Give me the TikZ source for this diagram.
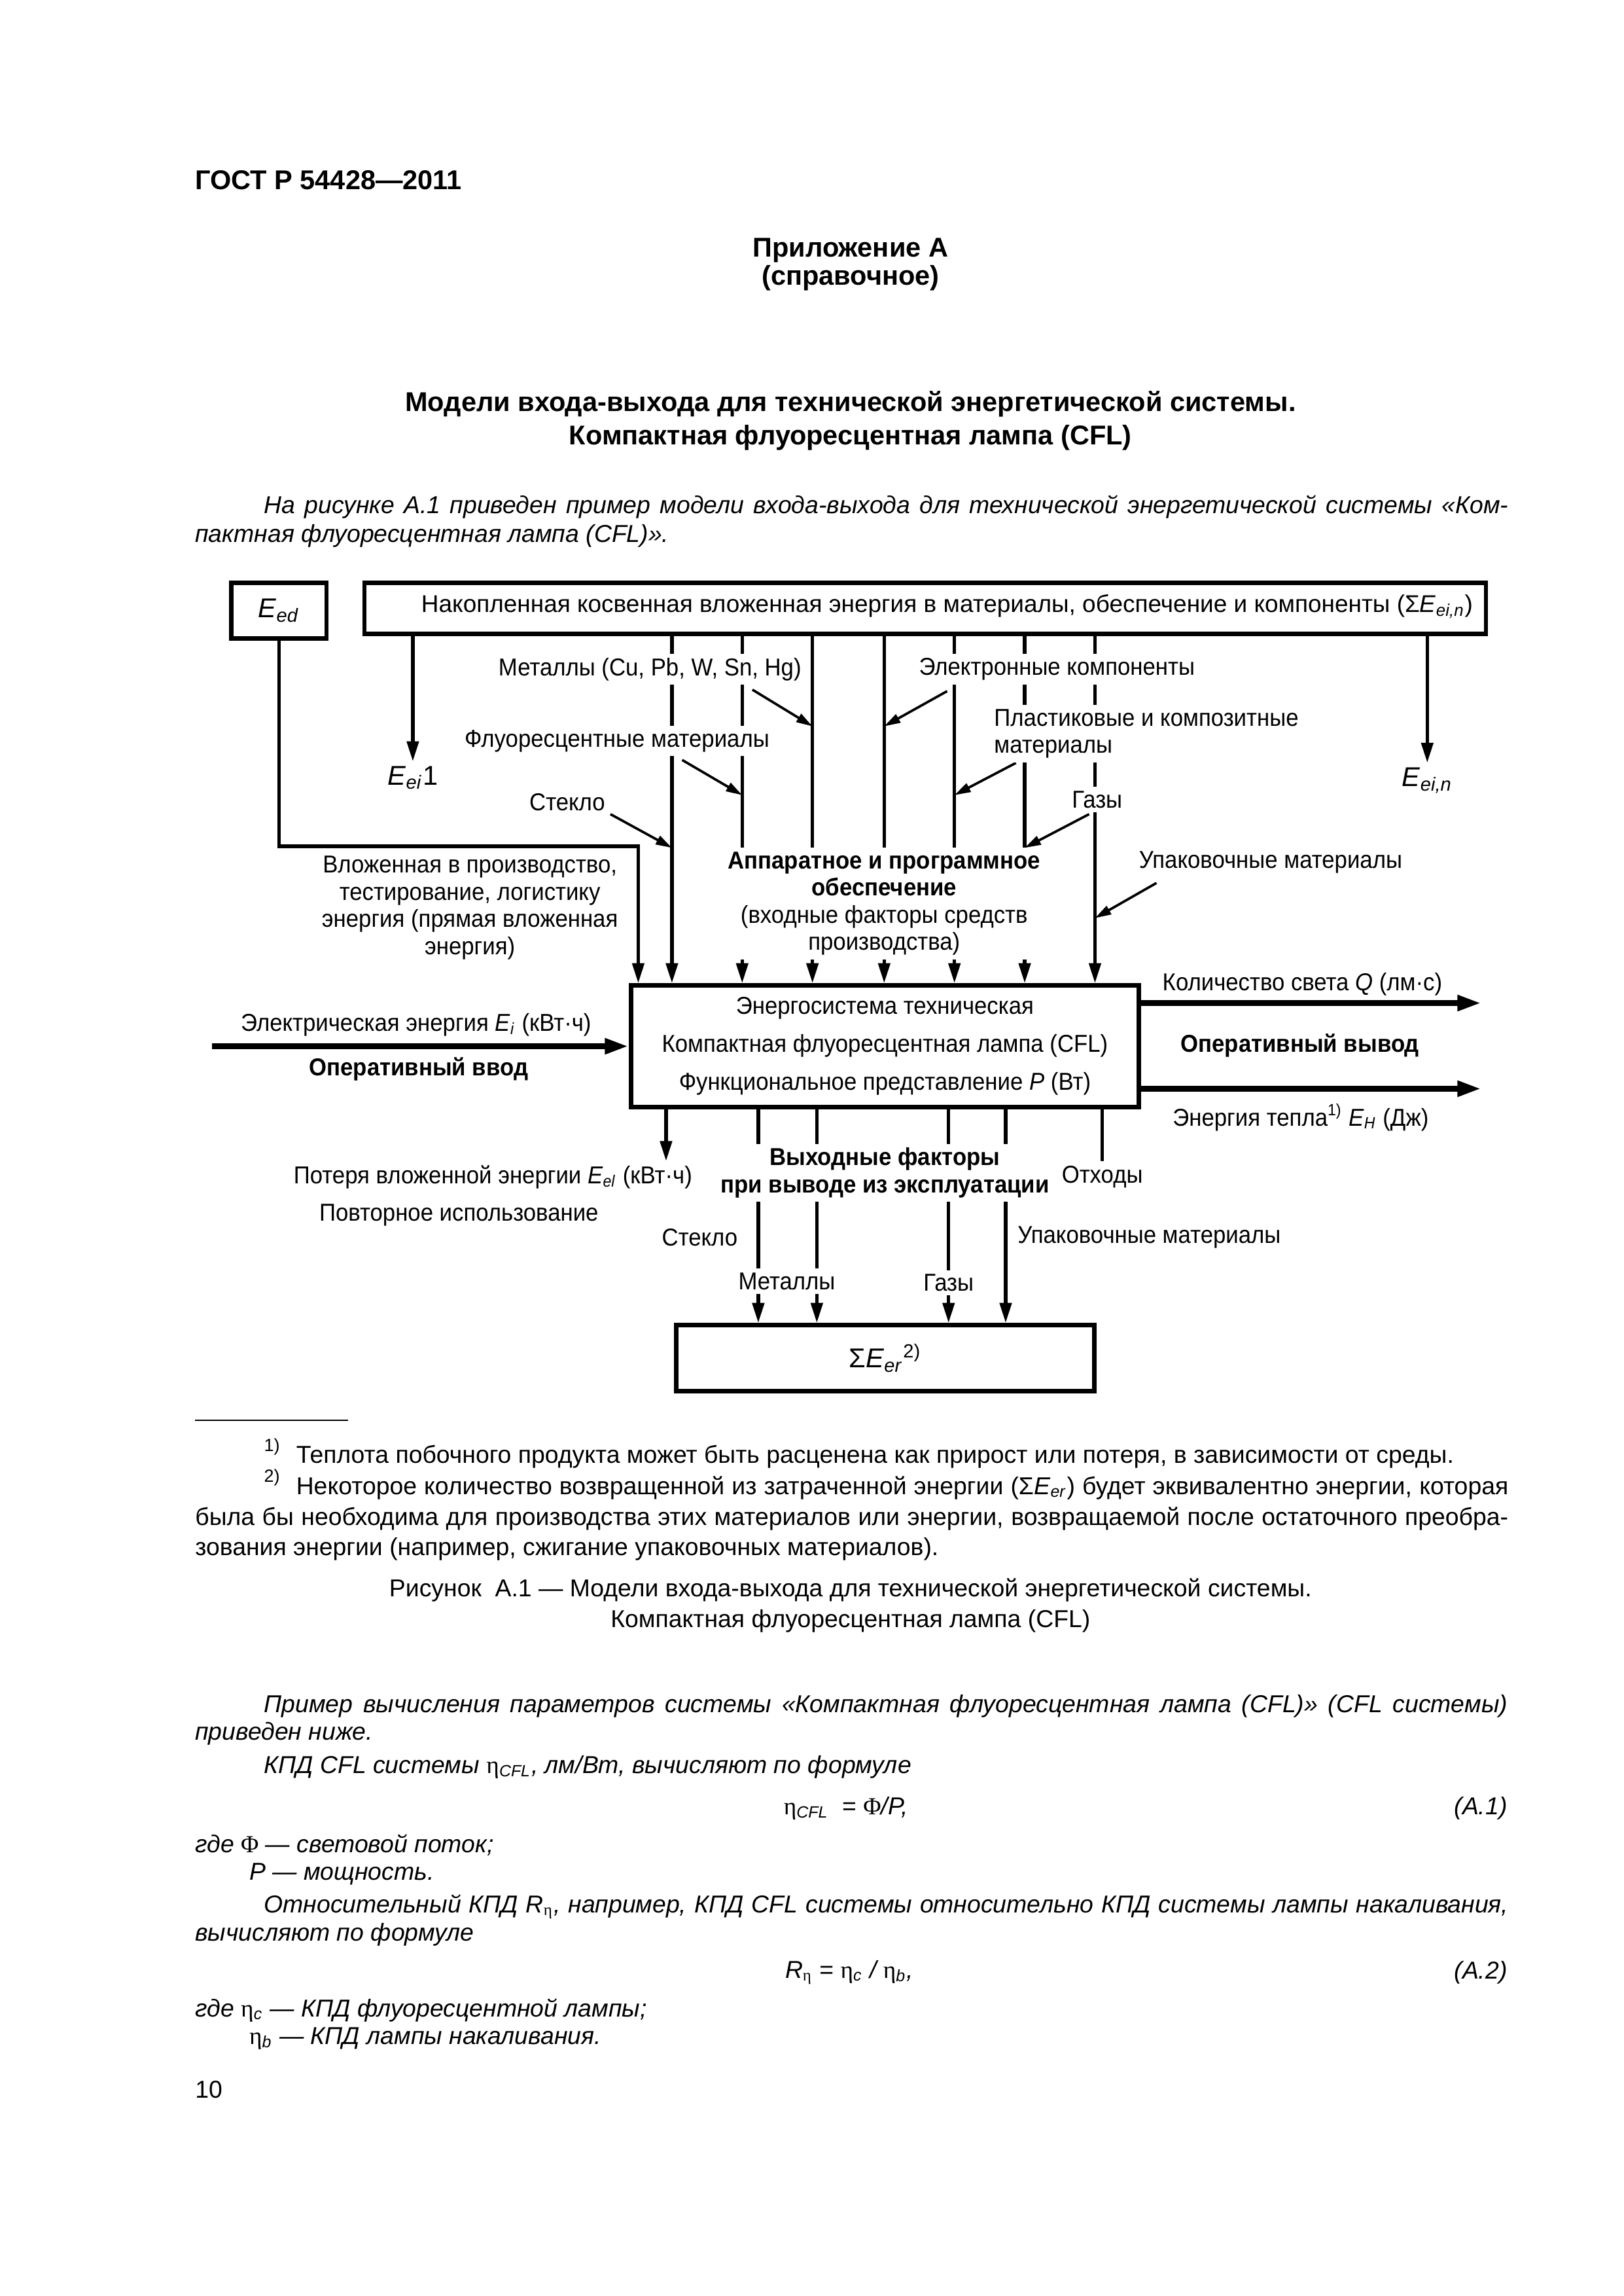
\documentclass[tikz,border=0pt]{standalone}
\usepackage{fontspec}
\setmainfont{Liberation Sans}
\newfontfamily\dgfont[FakeStretch=0.93]{Liberation Sans}
\newfontfamily\grfont{Liberation Serif}
\usetikzlibrary{positioning, arrows.meta, calc}
\pgfdeclarelayer{lines}
\pgfsetlayers{lines,main}

\newcommand{\upx}{0.18936mm}
\newcommand{\dgsize}{\dgfont\fontsize{9}{10}\selectfont}
\newcommand{\txsize}{\fontsize{9}{11}\selectfont}
\newcommand{\ssub}[2]{\textit{#1}\textsubscript{\textit{#2}}}
\newcommand{\etagr}{{\grfont\upshape η}}

\begin{document}
\begin{tikzpicture}[x=0.18936mm, y=-0.18936mm,
    box/.style={rectangle, draw, line width=1.6pt, inner sep=0pt, font=\dgsize},
    flow/.style={line width=1.3pt},
    arr/.style={flow, -{Triangle[length=2.6mm, width=1.5mm]}},
    tarr/.style={line width=0.9pt, -{Triangle[length=2.1mm, width=1.2mm]}},
    bigarr/.style={line width=2.2pt, -{Triangle[length=3.1mm, width=1.9mm]}},
    lbl/.style={font=\dgsize, inner sep=1.5pt, fill=white, align=center},
    sym/.style={font=\fontsize{10}{12}\selectfont, inner sep=1.5pt, fill=white},
    bodytxt/.style={font=\txsize, inner sep=0pt, anchor=west},
    bodyit/.style={font=\txsize\itshape, inner sep=0pt, anchor=west},
    head/.style={font=\fontsize{10}{12}\selectfont\bfseries, inner sep=0pt},
  ]
  \useasboundingbox (0,0) rectangle (1109,1568);

  % Page head
  \node[head, anchor=west] (gost) at (133,123) {ГОСТ Р 54428—2011};
  \node[head] (app) at (581,171) {Приложение А};
  \node[head] (appk) at (581,190) {(справочное)};
  \node[head] (ttl1) at (581,276) {Модели входа-выхода для технической энергетической системы.};
  \node[head] (ttl2) at (581,299) {Компактная флуоресцентная лампа (CFL)};
  \node[bodyit] (intro1) at (180,346) {\makebox[160.96mm][s]{На рисунке А.1 приведен пример модели входа-выхода для технической энергетической системы «Ком-}};
  \node[bodyit] (intro2) at (133,366) {пактная флуоресцентная лампа (CFL)».};

  % Boxes
  \node[box, minimum width=65*\upx, minimum height=38*\upx, font=\fontsize{10}{12}\selectfont] (ed) at (190.5,417) {\ssub{E}{ed}};
  \node[box, minimum width=766*\upx, minimum height=35*\upx] (top) at (632,415.5) {};
  \node[font=\fontsize{8.9}{10}\selectfont, inner sep=0pt] (toptxt) at (647,414)
    {Накопленная косвенная вложенная энергия в материалы, обеспечение и компоненты (Σ\ssub{E}{ei,n})};
  \node[box, minimum width=347*\upx, minimum height=83*\upx, align=center] (main) at (604.5,714.5)
    {Энергосистема техническая\\[4pt]Компактная флуоресцентная лампа (CFL)\\[4pt]Функциональное представление \textit{P} (Вт)};
  \node[box, minimum width=285.5*\upx, minimum height=45*\upx, font=\fontsize{10}{12}\selectfont] (sink) at (604.75,927.5)
    {Σ\ssub{E}{er}\textsuperscript{2)}};

  % Column positions
  \foreach \cx [count=\i] in {459,507,555,604,652,700,748}
    \coordinate (col\i) at (\cx,0);
  \foreach \cx [count=\i] in {518,558,648,687}
    \coordinate (out\i) at (\cx,0);
  \coordinate (edturn) at (436,578);
  \coordinate (lossend) at (455,793);
  \coordinate (elin) at (145,714.5);
  \coordinate (qout) at (1012,685);
  \coordinate (hout) at (1012,743.5);

  % Input labels (upper part)
  \node[sym, anchor=north] (ei1) at (282,520) {\ssub{E}{ei}1};
  \node[sym, anchor=north] (ein) at (975,521) {\ssub{E}{ei,n}};
  \node[lbl] (met) at (444,457) {Металлы (Cu, Pb, W, Sn, Hg)};
  \node[lbl] (elc) at (722,457) {Электронные компоненты};
  \node[lbl] (flu) at (421.5,506) {Флуоресцентные материалы};
  \node[lbl, anchor=west, align=left] (pla) at (676,501) {Пластиковые и композитные\\материалы};
  \node[lbl] (stk) at (387.5,548) {Стекло};
  \node[lbl] (gaz) at (749.5,546) {Газы};
  \node[lbl] (upk) at (868,589) {Упаковочные материалы};
  \node[lbl] (apo) at (604,617) {\bfseries Аппаратное и программное\\\bfseries обеспечение\\(входные факторы средств\\производства)};
  \node[lbl] (vlo) at (321,620) {Вложенная в производство,\\тестирование, логистику\\энергия (прямая вложенная\\энергия)};

  % Operative input and output
  \node[lbl, anchor=east] (eli) at (407,700) {Электрическая энергия \ssub{E}{i} (кВт·ч)};
  \node[lbl, font=\dgsize\bfseries] (opv) at (286,730) {Оперативный ввод};
  \node[lbl, anchor=west] (kol) at (791,672) {Количество света \textit{Q} (лм·с)};
  \node[lbl, font=\dgsize\bfseries] (ovv) at (888,714) {Оперативный вывод};
  \node[lbl, anchor=west] (ent) at (798,763) {Энергия тепла\textsuperscript{1)} \ssub{E}{H} (Дж)};

  % Output labels (lower part)
  \node[lbl, anchor=east] (pot) at (476,804) {Потеря вложенной энергии \ssub{E}{el} (кВт·ч)};
  \node[lbl, anchor=west] (pov) at (215,830) {Повторное использование};
  \node[lbl, font=\dgsize\bfseries] (vyh) at (604.5,801) {Выходные факторы\\при выводе из эксплуатации};
  \node[lbl, anchor=north] (otx) at (753,793) {Отходы};
  \node[lbl, anchor=east] (stk2) at (507,845) {Стекло};
  \node[lbl, anchor=west] (upk2) at (692,845) {Упаковочные материалы};
  \node[lbl] (met2) at (537.5,875) {Металлы};
  \node[lbl] (gaz2) at (648,876) {Газы};

  % Arrow starts and ends beside the labels
  \coordinate (a1s) at (514,471);  \coordinate (a1e) at (555,496);
  \coordinate (a2s) at (647,472);  \coordinate (a2e) at (604,496);
  \coordinate (a3s) at (466,519);  \coordinate (a3e) at (507,543);
  \coordinate (a4s) at (694,521);  \coordinate (a4e) at (652,543);
  \coordinate (a5s) at (417,556);  \coordinate (a5e) at (459,579);
  \coordinate (a6s) at (744,556);  \coordinate (a6e) at (700,579);
  \coordinate (a7s) at (790,603);  \coordinate (a7e) at (748,627);

  \begin{pgfonlayer}{lines}
    % Columns from the top box into the system
    \foreach \i in {1,...,7}
      \draw[arr] (top.south -| col\i) -- (main.north -| col\i);
    % Columns out of the system
    \foreach \i in {1,...,4}
      \draw[arr] (main.south -| out\i) -- (sink.north -| out\i);
    \draw[arr] (ed.south) |- (edturn) -- (main.north -| edturn);
    \draw[arr] (top.south -| ei1.north) -- (ei1.north);
    \draw[arr] (top.south -| ein.north) -- (ein.north);
    \draw[arr] (main.south -| lossend) -- (lossend);
    \draw[flow] (main.south -| otx.north) -- (otx.north);
    % Thick operative arrows
    \draw[bigarr] (elin) -- (main.west);
    \draw[bigarr] (main.east |- qout) -- (qout);
    \draw[bigarr] (main.east |- hout) -- (hout);
    % Label arrows
    \foreach \i in {1,...,7}
      \draw[tarr] (a\i s) -- (a\i e);
  \end{pgfonlayer}

  % Footnotes
  \draw[line width=0.5pt] (133,970) -- (238,970);
  \node[bodytxt, font=\fontsize{6.5}{8}\selectfont] (fn1m) at (180,988) {1)};
  \node[bodytxt] (fn1) at (202,995) {Теплота побочного продукта может быть расценена как прирост или потеря, в зависимости от среды.};
  \node[bodytxt, font=\fontsize{6.5}{8}\selectfont] (fn2m) at (180,1009) {2)};
  \node[bodytxt] (fn2a) at (202,1016) {\makebox[156.8mm][s]{Некоторое количество возвращенной из затраченной энергии (Σ\ssub{E}{er}) будет эквивалентно энергии, которая}};
  \node[bodytxt] (fn2b) at (133,1037) {\makebox[169.86mm][s]{была бы необходима для производства этих материалов или энергии, возвращаемой после остаточного преобра-}};
  \node[bodytxt] (fn2c) at (133,1058) {зования энергии (например, сжигание упаковочных материалов).};

  % Caption
  \node[font=\txsize, inner sep=0pt] (cap1) at (581,1086) {Рисунок\ \ А.1 — Модели входа-выхода для технической энергетической системы.};
  \node[font=\txsize, inner sep=0pt] (cap2) at (581,1107) {Компактная флуоресцентная лампа (CFL)};

  % Text after the figure
  \node[bodyit] (p1a) at (180,1165) {\makebox[160.86mm][s]{Пример вычисления параметров системы «Компактная флуоресцентная лампа (CFL)» (CFL системы)}};
  \node[bodyit] (p1b) at (133,1184) {приведен ниже.};
  \node[bodyit] (p2) at (180,1207) {КПД CFL системы \etagr\textsubscript{CFL}, лм/Вт, вычисляют по формуле};
  \node[bodyit] (eq1) at (535,1235) {\etagr\textsubscript{CFL}\ \ {\upshape =} {\grfont\upshape Φ}/\textit{P},};
  \node[bodyit, anchor=east] (eq1n) at (1030,1235) {(А.1)};
  \node[bodyit] (w1) at (133,1260) {где {\grfont\upshape Φ} — световой поток;};
  \node[bodyit] (w2) at (170,1280) {\textit{P} — мощность.};
  \node[bodyit] (p3a) at (180,1302) {\makebox[160.96mm][s]{Относительный КПД \textit{R}\textsubscript{\etagr}, например, КПД CFL системы относительно КПД системы лампы накаливания,}};
  \node[bodyit] (p3b) at (133,1321) {вычисляют по формуле};
  \node[bodyit] (eq2) at (536,1347) {\textit{R}\textsubscript{\etagr} {\upshape =} \etagr\textsubscript{c} / \etagr\textsubscript{b},};
  \node[bodyit, anchor=east] (eq2n) at (1030,1347) {(А.2)};
  \node[bodyit] (w3) at (133,1373) {где \etagr\textsubscript{c} — КПД флуоресцентной лампы;};
  \node[bodyit] (w4) at (170,1392) {\etagr\textsubscript{b} — КПД лампы накаливания.};
  \node[bodytxt] (pg) at (133,1427) {10};
\end{tikzpicture}
\end{document}
